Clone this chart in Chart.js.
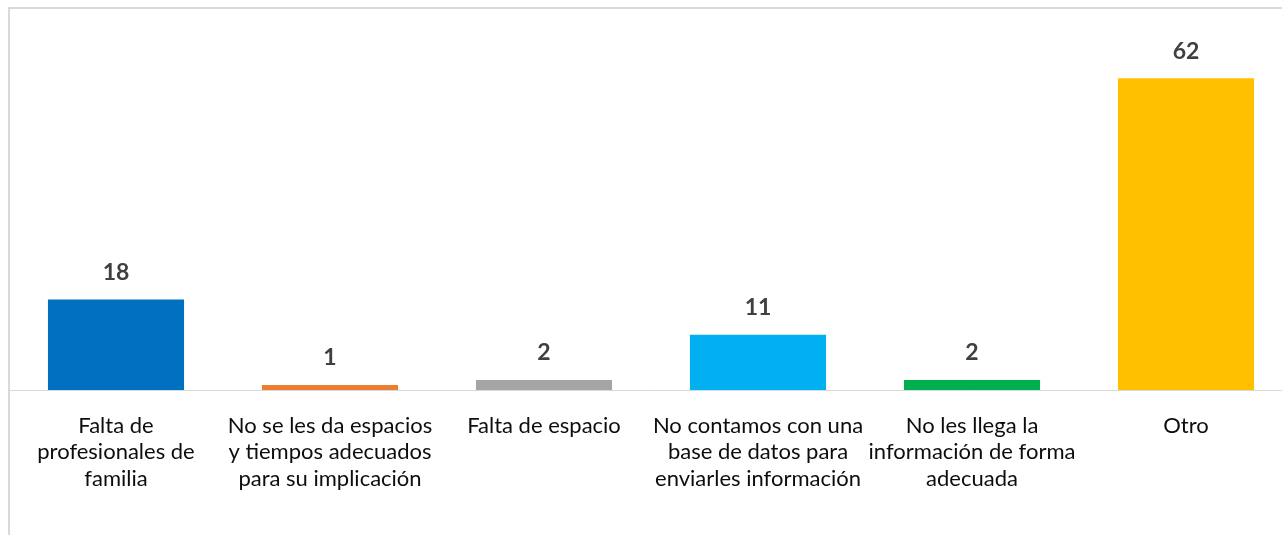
<!DOCTYPE html>
<html>
<head>
<meta charset="utf-8">
<script src="https://cdn.jsdelivr.net/npm/chart.js@4"></script>
<style>
  html, body { margin: 0; padding: 0; background: #fff; overflow: hidden; width: 1282px; height: 535px; }
  #frame { position: absolute; left: 8px; top: 7px; width: 1300px; height: 600px;
           border-left: 2px solid #d9d9d9; border-top: 2px solid #d9d9d9; box-sizing: border-box; }
  #c { position: absolute; left: 0; top: 0; }
</style>
</head>
<body>
<div id="frame"></div>
<canvas id="c" width="1300" height="535"></canvas>
<script>
const categories = [
  ["Falta de", "profesionales de", "familia"],
  ["No se les da espacios", "y tiempos adecuados", "para su implicación"],
  ["Falta de espacio"],
  ["No contamos con una", "base de datos para", "enviarles información"],
  ["No les llega la", "información de forma", "adecuada"],
  ["Otro"]
];
const values = [18, 1, 2, 11, 2, 62];
const barColors = ["#0070C0", "#ED7D31", "#A5A5A5", "#00B0F0", "#00B050", "#FFC000"];

const valueLabels = {
  id: 'valueLabels',
  afterDatasetsDraw(chart) {
    const ctx = chart.ctx;
    const meta = chart.getDatasetMeta(0);
    ctx.save();
    ctx.font = 'bold 23px Lato';
    ctx.fillStyle = '#404040';
    ctx.textAlign = 'center';
    ctx.textBaseline = 'middle';
    meta.data.forEach((bar, i) => {
      ctx.fillText(String(values[i]), bar.x, bar.y - 27);
    });
    ctx.restore();
  }
};

new Chart(document.getElementById('c'), {
  type: 'bar',
  data: {
    labels: categories,
    datasets: [{
      data: values,
      backgroundColor: barColors,
      borderWidth: 0,
      barPercentage: 0.636,
      categoryPercentage: 1.0
    }]
  },
  options: {
    responsive: false,
    animation: false,
    layout: { padding: { left: 9, right: 7, top: 38, bottom: 0 } },
    plugins: { legend: { display: false }, tooltip: { enabled: false } },
    scales: {
      y: { display: false, min: 0, max: 70 },
      x: {
        grid: { display: false },
        border: { display: true, color: '#d9d9d9', width: 1 },
        ticks: {
          color: '#0d0d0d',
          font: { family: 'Lato', size: 22, lineHeight: 1.22 },
          padding: 14,
          maxRotation: 0,
          autoSkip: false
        },
        afterFit(scale) { scale.height = 145; }
      }
    }
  },
  plugins: [valueLabels]
});
</script>
</body>
</html>
